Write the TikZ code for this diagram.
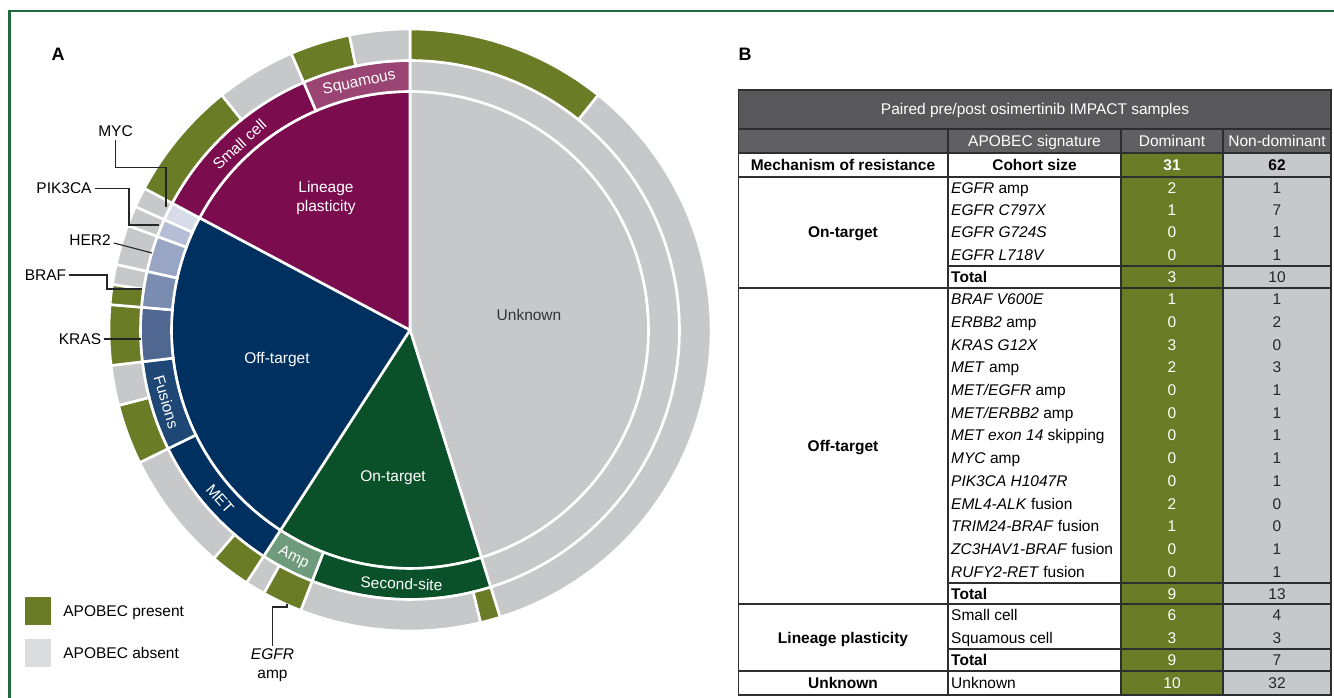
\documentclass[tikz,border=0pt]{standalone}
\usepackage{fontspec}
\setmainfont{Liberation Sans}
\usetikzlibrary{positioning}

\definecolor{framegreen}{HTML}{1D6B3F}
\definecolor{clineage}{HTML}{7B0D4F}
\definecolor{csquam}{HTML}{994472}
\definecolor{coff}{HTML}{00305F}
\definecolor{cfusion}{HTML}{1F4775}
\definecolor{ckras}{HTML}{4F6791}
\definecolor{cbraf}{HTML}{7A8CB0}
\definecolor{cher}{HTML}{98A5C4}
\definecolor{cpik}{HTML}{B5BED6}
\definecolor{cmyc}{HTML}{D7DCE8}
\definecolor{con}{HTML}{0A5129}
\definecolor{camp}{HTML}{6E9B7B}
\definecolor{cunk}{HTML}{C7C8CA}
\definecolor{apo}{HTML}{6B7C26}
\definecolor{noapo}{HTML}{C7C8CA}
\definecolor{legendgray}{HTML}{DBDCDE}
\definecolor{hdrdark}{HTML}{58585A}
\definecolor{hdrmid}{HTML}{606062}
\definecolor{tabdark}{HTML}{2E2E2E}

\tikzset{
  txt/.style={font=\fontsize{15.5}{19}\selectfont, text height=11pt, text depth=0pt, inner sep=0pt},
  wtxt/.style={txt, text=white},
  btxt/.style={txt, font=\fontsize{15.5}{19}\selectfont\bfseries},
  lead/.style={txt, inner sep=3pt},
  leader/.style={draw=black!85, line width=1.1pt},
  tabline/.style={draw=tabdark, line width=1.8pt},
  swatch/.style={minimum width=26.5pt, minimum height=28pt, inner sep=0pt},
}

% one wedge of the inner pie, counted in samples clockwise from the top
\newcommand{\pieseg}[3]{%
  \filldraw[fill=#1, draw=white, line width=2.6pt] (0,0) -- ({90-#2*3.870968}:238.5pt)
    arc[start angle={90-#2*3.870968}, end angle={90-#3*3.870968}, radius=238.5pt] -- cycle;}
% one piece of a ring
\newcommand{\ringseg}[5]{%
  \filldraw[fill=#1, draw=white, line width=2.6pt] ({90-#2*3.870968}:#4pt)
    arc[start angle={90-#2*3.870968}, end angle={90-#3*3.870968}, radius=#4pt]
    -- ({90-#3*3.870968}:#5pt)
    arc[start angle={90-#3*3.870968}, end angle={90-#2*3.870968}, radius=#5pt] -- cycle;}

\begin{document}
\begin{tikzpicture}[x=1pt, y=1pt]
  \useasboundingbox (0,0) rectangle (1334,697);
  \draw[framegreen, line width=2.5pt] (9.5,-5) -- (9.5,686) -- (1340,686);

  \node[txt, font=\fontsize{18}{20}\selectfont\bfseries] (labA) at (58,642) {A};
  \node[txt, font=\fontsize{18}{20}\selectfont\bfseries] (labB) at (745,642) {B};

  % pie chart
  \begin{scope}[shift={(410,367)}]
    \pieseg{cunk}{0}{42}
    \pieseg{con}{42}{55}
    \pieseg{coff}{55}{77}
    \pieseg{clineage}{77}{93}
    % middle ring
    \foreach \c/\a/\b in {cunk/0/42, con/42/52, camp/52/55, coff/55/63, cfusion/63/68,
        ckras/68/71, cbraf/71/73, cher/73/75, cpik/75/76, cmyc/76/77,
        clineage/77/87, csquam/87/93}
      \ringseg{\c}{\a}{\b}{238.5}{269.5};
    % outer ring
    \foreach \c/\a/\b in {apo/0/10, noapo/10/42, apo/42/43, noapo/43/52, apo/52/54,
        noapo/54/55, apo/55/57, noapo/57/63, apo/63/66, noapo/66/68, apo/68/71,
        apo/71/72, noapo/72/73, noapo/73/75, noapo/75/76, noapo/76/77,
        apo/77/83, noapo/83/87, apo/87/90, noapo/90/93}
      \ringseg{\c}{\a}{\b}{269.5}{301};
    \node[wtxt, rotate=11.6] (squamous) at ({90-90*3.870968}:254pt) {Squamous};
    \node[wtxt, rotate=42.6] (smallcell) at ({90-82*3.870968}:252pt) {Small cell};
    \node[wtxt, rotate=-73.55] (fusions) at ({90-65.5*3.870968}:254pt) {Fusions};
    \node[wtxt, rotate=-48.4] (met) at ({90-59*3.870968}:254pt) {MET};
    \node[wtxt, rotate=-27.1] (amp) at ({90-53.5*3.870968}:254pt) {Amp};
    \node[wtxt, rotate=-1.9] (secondsite) at ({90-47*3.870968}:254pt) {Second-site};
  \end{scope}

  \node[font=\fontsize{15.5}{19}\selectfont, text=white, align=center] (lineagelbl) at (326,499.5) {Lineage\\plasticity};
  \node[txt, text=black!80] (unknownlbl) at (529,382) {Unknown};
  \node[wtxt] (offlbl) at (277,339) {Off-target};
  \node[wtxt] (onlbl) at (393,221) {On-target};

  % leaders
  \coordinate (myctip) at (166,490);
  \coordinate (piktip) at (159,472);
  \coordinate (hertip) at (152,444);
  \coordinate (braftip) at (142,408);
  \coordinate (krastip) at (141,358);
  \coordinate (egfrtip) at (287,93);
  \node[lead] (myc) at (115.5,565.5) {MYC};
  \node[lead] (pik3ca) at (64,508.5) {PIK3CA};
  \node[lead] (her2) at (90,457) {HER2};
  \node[lead] (braf) at (45.5,422) {BRAF};
  \node[lead] (kras) at (80,358) {KRAS};
  \node[font=\fontsize{15.5}{19}\selectfont, align=center, inner sep=3pt] (egfr) at (272.5,31.5) {\textit{EGFR}\\amp};
  \draw[leader] (myc.south) -- ++(0,-27) -| (myctip);
  \draw[leader] (pik3ca.east) -| ([xshift=-30pt]piktip) -- (piktip);
  \draw[leader] ([yshift=-3pt]her2.east) -- (hertip);
  \draw[leader] (braf.east) -| ([xshift=-35pt]braftip) -- (braftip);
  \draw[leader] (kras.east) -- (krastip);
  \draw[leader] (egfr.north) |- ([yshift=-3pt]egfrtip) -- (egfrtip);

  % legend
  \node[swatch, fill=apo] (present) at (37.75,86) {};
  \node[txt, right=12pt of present] (presenttxt) {APOBEC present};
  \node[swatch, fill=legendgray] (absent) at (37.75,44) {};
  \node[txt, right=12pt of absent] (absenttxt) {APOBEC absent};

  % table
  \fill[hdrdark] (738.5,568) rectangle (1331,607);
  \fill[hdrmid] (738.5,544) rectangle (1331,568);
  \fill[apo] (1121,2) rectangle (1223,544);
  \fill[noapo] (1223,2) rectangle (1331,544);
  \draw[tabline] (738.5,2) rectangle (1331,607);
  \foreach \y in {568,544,520,409,93,26} \draw[tabline] (738.5,\y) -- (1331,\y);
  \foreach \y in {431,114,48} \draw[tabline] (948,\y) -- (1331,\y);
  \foreach \x in {948,1121,1223} \draw[tabline] (\x,2) -- (\x,568);

  \node[wtxt] (title) at (1035,587.5) {Paired pre/post osimertinib IMPACT samples};
  \node[wtxt] (signature) at (1034.5,556) {APOBEC signature};
  \node[wtxt] (dominant) at (1172,556) {Dominant};
  \node[wtxt] (nondominant) at (1277,556) {Non-dominant};
  \node[btxt] (mechanism) at (843,532) {Mechanism of resistance};
  \node[btxt] (cohort) at (1034.5,532) {Cohort size};
  \node[btxt, text=white] (cohortdom) at (1172,532) {31};
  \node[btxt] (cohortnon) at (1277,532) {62};
  \node[btxt] (ontarget) at (843,464.5) {On-target};
  \node[btxt] (offtarget) at (843,251) {Off-target};
  \node[btxt] (lineage) at (843,59.5) {Lineage plasticity};
  \node[btxt] (unknown) at (843,14) {Unknown};

  \foreach \y/\name/\dom/\non [count=\i] in {
      508.9/{\textit{EGFR} amp}/2/1,
      486.7/{\textit{EGFR C797X}}/1/7,
      464.5/{\textit{EGFR G724S}}/0/1,
      442.3/{\textit{EGFR L718V}}/0/1,
      420.1/{\textbf{Total}}/3/10,
      397.6/{\textit{BRAF V600E}}/1/1,
      374.9/{\textit{ERBB2} amp}/0/2,
      352.3/{\textit{KRAS G12X}}/3/0,
      329.6/{\textit{MET} amp}/2/3,
      306.9/{\textit{MET/EGFR} amp}/0/1,
      284.2/{\textit{MET/ERBB2} amp}/0/1,
      261.5/{\textit{MET exon 14} skipping}/0/1,
      238.8/{\textit{MYC} amp}/0/1,
      216.1/{\textit{PIK3CA H1047R}}/0/1,
      193.4/{\textit{EML4-ALK} fusion}/2/0,
      170.7/{\textit{TRIM24-BRAF} fusion}/1/0,
      148.0/{\textit{ZC3HAV1-BRAF} fusion}/0/1,
      125.4/{\textit{RUFY2-RET} fusion}/0/1,
      103.5/{\textbf{Total}}/9/13,
      82/{Small cell}/6/4,
      59/{Squamous cell}/3/3,
      37/{\textbf{Total}}/9/7,
      14/{Unknown}/10/32} {
    \node[txt, anchor=west] (row\i) at (951,\y) {\name};
    \node[wtxt] (dom\i) at (1172,\y) {\dom};
    \node[txt, text=black!85] (non\i) at (1277,\y) {\non};
  }
\end{tikzpicture}
\end{document}
